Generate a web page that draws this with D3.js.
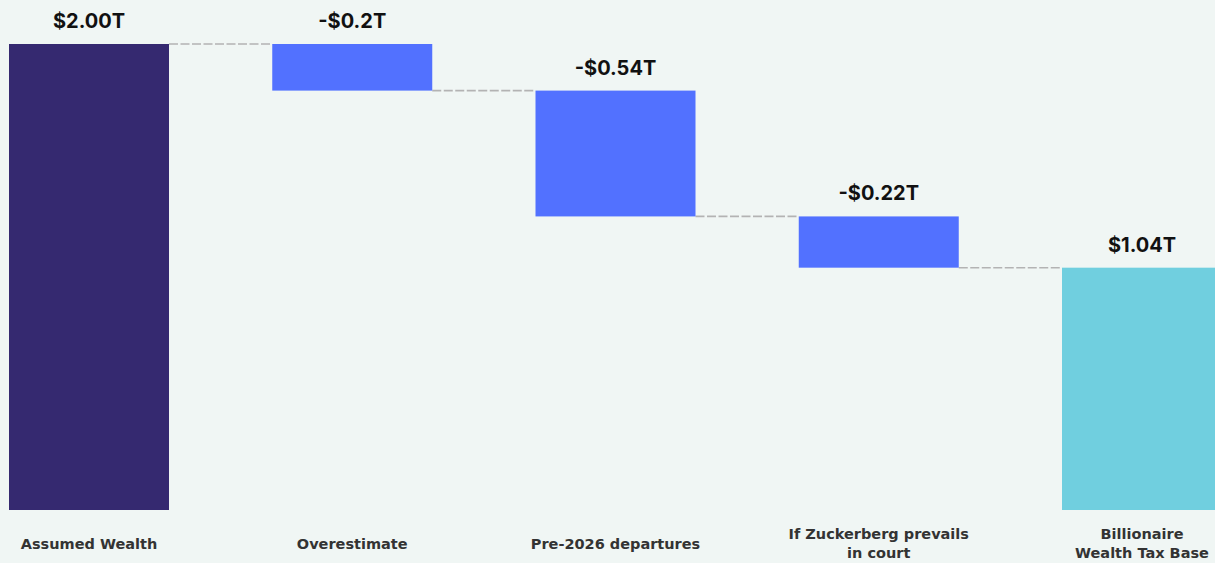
<!DOCTYPE html>
<html>
<head>
<meta charset="utf-8">
<script src="https://cdn.jsdelivr.net/npm/d3@7"></script>
<style>
  html, body { margin: 0; padding: 0; background: #f0f6f4; }
  svg { display: block; }
</style>
</head>
<body>
<svg id="chart" width="1215" height="563"></svg>
<script>
// Waterfall: from assumed billionaire wealth down to the taxable base (trillions USD)
const categories = ["Assumed Wealth", "Overestimate", "Pre-2026 departures", "If Zuckerberg prevails\nin court", "Billionaire\nWealth Tax Base"];
const changes = [2.00, -0.2, -0.54, -0.22, 1.04];
const kinds = ["total", "delta", "delta", "delta", "total"];
const valueLabels = ["$2.00T", "-$0.2T", "-$0.54T", "-$0.22T", "$1.04T"];

const svg = d3.select("#chart");

// running totals -> [start, end] per bar
let running = 0;
const bars = categories.map((c, i) => {
  let y0, y1;
  if (kinds[i] === "total") { y0 = 0; y1 = changes[i]; running = changes[i]; }
  else { y0 = running; y1 = running + changes[i]; running = y1; }
  return { cat: c, y0, y1, kind: kinds[i], label: valueLabels[i] };
});

// band layout: step 263.25px, bars 160px wide, first bar starting at x=9
const step = 263.25, pInner = 103.25 / 263.25, pOuter = pInner / 2;
const r0 = 9 - step * pOuter;
const x = d3.scaleBand()
  .domain(categories)
  .range([r0, r0 + step * (categories.length - pInner + 2 * pOuter)])
  .paddingInner(pInner)
  .paddingOuter(pOuter);

const y = d3.scaleLinear().domain([0, 2]).range([510, 44]);

const colorFor = (d, i) => i === 0 ? "#352970" : (d.kind === "total" ? "#70cfdf" : "#5271ff");

const g = svg.append("g");

// dashed connectors between consecutive bars
g.selectAll("line.conn")
  .data(bars.slice(0, -1))
  .join("line")
  .attr("class", "conn")
  .attr("x1", d => x(d.cat) + x.bandwidth())
  .attr("x2", (d, i) => x(bars[i + 1].cat))
  .attr("y1", d => y(d.y1))
  .attr("y2", d => y(d.y1))
  .attr("stroke", "#b3b3b3")
  .attr("stroke-width", 1.6)
  .attr("stroke-dasharray", "9,2.5");

g.selectAll("rect.bar")
  .data(bars)
  .join("rect")
  .attr("class", "bar")
  .attr("x", d => x(d.cat))
  .attr("width", x.bandwidth())
  .attr("y", d => y(Math.max(d.y0, d.y1)))
  .attr("height", d => Math.abs(y(d.y0) - y(d.y1)))
  .attr("fill", (d, i) => colorFor(d, i));

// value labels above each bar
g.selectAll("text.val")
  .data(bars)
  .join("text")
  .attr("class", "val")
  .attr("x", d => x(d.cat) + x.bandwidth() / 2)
  .attr("y", d => y(Math.max(d.y0, d.y1)) - 16)
  .attr("text-anchor", "middle")
  .attr("font-family", "Inter, 'Noto Sans', sans-serif")
  .attr("font-weight", 700)
  .attr("font-size", 20)
  .attr("fill", "#111")
  .text(d => d.label);

// category labels under the bars
const cat = g.selectAll("text.cat")
  .data(bars)
  .join("text")
  .attr("class", "cat")
  .attr("text-anchor", "middle")
  .attr("font-family", "'DejaVu Sans', sans-serif")
  .attr("font-weight", 700)
  .attr("font-size", 14.5)
  .attr("fill", "#333");

cat.each(function(d) {
  const lines = d.cat.split("\n");
  const lh = 19;
  const base = 548.5 - (lines.length - 1) * lh / 2;
  d3.select(this).selectAll("tspan")
    .data(lines)
    .join("tspan")
    .attr("x", x(d.cat) + x.bandwidth() / 2)
    .attr("y", (l, j) => base + j * lh)
    .text(l => l);
});
</script>
</body>
</html>
